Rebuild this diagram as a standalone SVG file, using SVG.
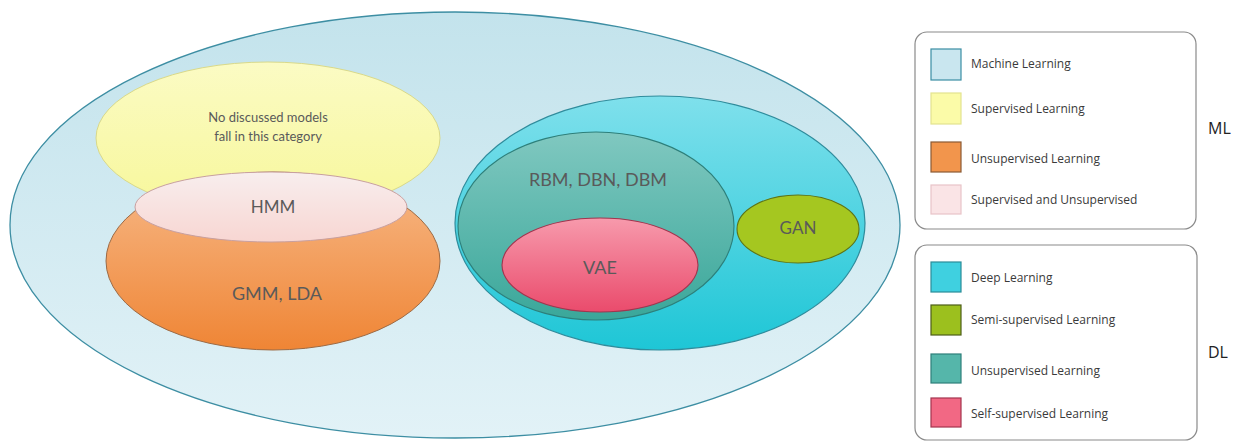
<svg xmlns="http://www.w3.org/2000/svg" width="1252" height="442" viewBox="0 0 1252 442">
<defs>
<linearGradient id="gML" x1="0" y1="0" x2="0" y2="1"><stop offset="0" stop-color="#c3e3ec"/><stop offset="1" stop-color="#e2f2f7"/></linearGradient>
<linearGradient id="gOr" x1="0" y1="0" x2="0" y2="1"><stop offset="0" stop-color="#f7b988"/><stop offset="1" stop-color="#ef8535"/></linearGradient>
<linearGradient id="gPk" x1="0" y1="0" x2="0" y2="1"><stop offset="0" stop-color="#f8eeee"/><stop offset="1" stop-color="#f8d6d2"/></linearGradient>
<linearGradient id="gDL" x1="0" y1="0" x2="0" y2="1"><stop offset="0" stop-color="#7fe0ec"/><stop offset="1" stop-color="#1ec6d6"/></linearGradient>
<linearGradient id="gTe" x1="0" y1="0" x2="0" y2="1"><stop offset="0" stop-color="#80c8c0"/><stop offset="1" stop-color="#3aa79a"/></linearGradient>
<linearGradient id="gVae" x1="0" y1="0" x2="0" y2="1"><stop offset="0" stop-color="#f79aac"/><stop offset="1" stop-color="#ea4b6c"/></linearGradient>
<linearGradient id="gYe" x1="0" y1="0" x2="0" y2="1"><stop offset="0" stop-color="#fbfbc4"/><stop offset="1" stop-color="#f7f79a"/></linearGradient>
</defs>
<style>
.lbl{font-family:Lato,"Liberation Sans",sans-serif;fill:#5a5a5a;text-anchor:middle}
.leg{font-family:"Open Sans","Liberation Sans",sans-serif;font-size:12px;fill:#3a3a3a}
.side{font-family:"Open Sans","Liberation Sans",sans-serif;font-size:16px;fill:#222}
.box{fill:#fff;stroke:#8a8a8a;stroke-width:1.2}
.sw{stroke-width:1.2}
</style>
<g id="ml"><ellipse cx="455" cy="225" rx="445" ry="213" fill="url(#gML)" stroke="#3d8ea3" stroke-width="1.3"/></g>
<g id="supervised"><ellipse cx="268" cy="138" rx="172" ry="76" fill="url(#gYe)" stroke="#d9d98a" stroke-width="1"/>
<text class="lbl" x="268" y="122" font-size="13">No discussed models</text>
<text class="lbl" x="268" y="141" font-size="13">fall in this category</text></g>
<g id="unsupervised"><ellipse cx="273" cy="261" rx="167" ry="89" fill="url(#gOr)" stroke="#9c6a44" stroke-width="1"/>
<text class="lbl" x="277" y="300" font-size="18" fill="#6a5040">GMM, LDA</text></g>
<g id="hmm"><ellipse cx="271" cy="207" rx="136" ry="35" fill="url(#gPk)" stroke="#c8a0a0" stroke-width="1"/>
<text class="lbl" x="273" y="213" font-size="17">HMM</text></g>
<g id="dl"><ellipse cx="660" cy="223" rx="205" ry="127" fill="url(#gDL)" stroke="#2f8c9c" stroke-width="1.2"/></g>
<g id="dl-unsup"><ellipse cx="596" cy="226" rx="138" ry="94" fill="url(#gTe)" stroke="#2d7f7a" stroke-width="1.1"/>
<text class="lbl" x="598" y="186" font-size="18" fill="#3f6468">RBM, DBN, DBM</text></g>
<g id="vae"><ellipse cx="600" cy="265" rx="98" ry="47" fill="url(#gVae)" stroke="#a3344e" stroke-width="1.1"/>
<text class="lbl" x="600" y="274" font-size="18" fill="#8a3a4e">VAE</text></g>
<g id="gan"><ellipse cx="798" cy="229" rx="61" ry="34" fill="#a5c720" stroke="#5e7416" stroke-width="1.1"/>
<text class="lbl" x="798" y="234" font-size="17" fill="#5f6a2e">GAN</text></g>
<g id="legend-ml">
<rect class="box" x="915" y="32" width="281" height="197" rx="12"/>
<rect class="sw" x="931" y="49" width="30" height="31" fill="#c9e6ef" stroke="#3b8ea3"/>
<rect class="sw" x="931" y="93" width="30" height="31" fill="#fbfba8" stroke="#e3e390"/>
<rect class="sw" x="931" y="142" width="30" height="30" fill="#f2954c" stroke="#8b5a34"/>
<rect class="sw" x="931" y="185" width="30" height="29" fill="#fae4e6" stroke="#e8c4c8"/>
<text class="leg" x="971" y="68">Machine Learning</text>
<text class="leg" x="971" y="113">Supervised Learning</text>
<text class="leg" x="971" y="163">Unsupervised Learning</text>
<text class="leg" x="971" y="204">Supervised and Unsupervised</text>
</g>
<text class="side" x="1208" y="134">ML</text>
<g id="legend-dl">
<rect class="box" x="915" y="245" width="282" height="195" rx="12"/>
<rect class="sw" x="931" y="262" width="30" height="30" fill="#3fd0e0" stroke="#2b8c98"/>
<rect class="sw" x="931" y="305" width="30" height="30" fill="#9cc01e" stroke="#4e5e18"/>
<rect class="sw" x="931" y="354" width="30" height="29" fill="#55b6aa" stroke="#2d7f7a"/>
<rect class="sw" x="931" y="398" width="30" height="29" fill="#f26884" stroke="#a3344e"/>
<text class="leg" x="971" y="282">Deep Learning</text>
<text class="leg" x="971" y="324">Semi-supervised Learning</text>
<text class="leg" x="971" y="375">Unsupervised Learning</text>
<text class="leg" x="971" y="418">Self-supervised Learning</text>
</g>
<text class="side" x="1208" y="358">DL</text>
<g id="connectors"/>
</svg>
